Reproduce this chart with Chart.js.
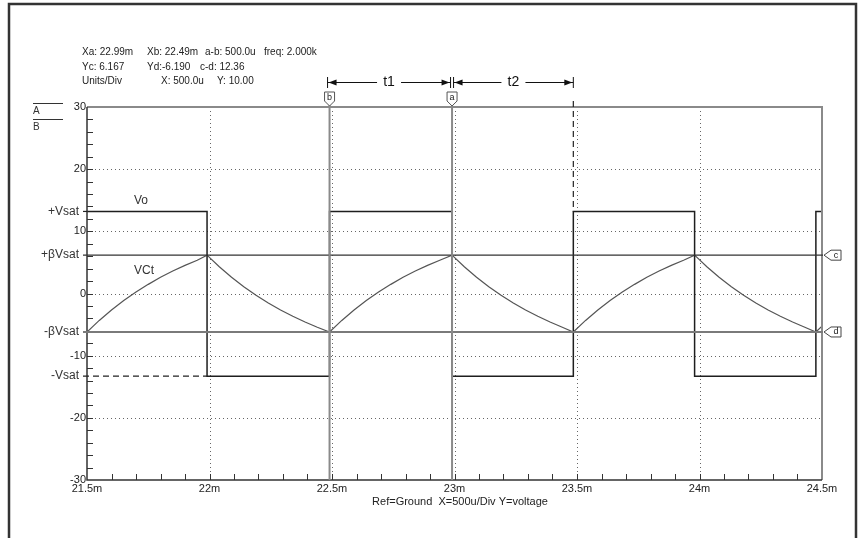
<!DOCTYPE html>
<html>
<head>
<meta charset="utf-8">
<script src="https://cdn.jsdelivr.net/npm/chart.js@4/dist/chart.umd.min.js"></script>
<style>
  html, body { margin: 0; padding: 0; background: #fff; }
  canvas { display: block; }
</style>
</head>
<body>
<canvas id="scope" width="863" height="538"></canvas>
<script>
// axis ticks (time in ms, voltage in V)
var xTicks = [21.5, 22, 22.5, 23, 23.5, 24, 24.5];
var yTicks = [-30, -20, -10, 0, 10, 20, 30];

// output of the comparator (square wave)
var voTime  = [21.5, 21.99, 21.99, 22.49, 22.49, 22.99, 22.99, 23.485, 23.485, 23.98, 23.98, 24.475, 24.475, 24.5];
var voValue = [13.2, 13.2, -13.3, -13.3, 13.2, 13.2, -13.3, -13.3, 13.2, 13.2, -13.3, -13.3, 13.2, 13.2];

// capacitor voltage
var vctTime = [
  21.50, 21.55, 21.60, 21.65, 21.70, 21.75, 21.80, 21.85, 21.90, 21.95, 21.99,
  22.04, 22.09, 22.14, 22.19, 22.24, 22.29, 22.34, 22.39, 22.44, 22.49,
  22.54, 22.59, 22.64, 22.69, 22.74, 22.79, 22.84, 22.89, 22.94, 22.99,
  23.04, 23.09, 23.14, 23.19, 23.24, 23.29, 23.34, 23.39, 23.44, 23.485,
  23.535, 23.585, 23.635, 23.685, 23.735, 23.785, 23.835, 23.885, 23.935, 23.98,
  24.03, 24.08, 24.13, 24.18, 24.23, 24.28, 24.33, 24.38, 24.43, 24.475,
  24.50
];
var vctValue = [
  -6.19, -4.33, -2.66, -1.14, 0.23, 1.47, 2.60, 3.61, 4.53, 5.36, 6.17,
  4.31, 2.62, 1.10, -0.28, -1.52, -2.65, -3.67, -4.59, -5.43, -6.19,
  -4.33, -2.66, -1.14, 0.23, 1.47, 2.60, 3.61, 4.53, 5.36, 6.17,
  4.31, 2.62, 1.10, -0.28, -1.52, -2.65, -3.67, -4.59, -5.43, -6.19,
  -4.33, -2.66, -1.14, 0.23, 1.47, 2.60, 3.61, 4.53, 5.36, 6.17,
  4.31, 2.62, 1.10, -0.28, -1.52, -2.65, -3.67, -4.59, -5.43, -6.19,
  -5.25
];

// cursors
var cursorXNames = ['a', 'b'];
var cursorXValues = [22.99, 22.49];
var cursorYNames = ['c', 'd'];
var cursorYValues = [6.167, -6.19];
var t2End = 23.485;

// level labels on the left
var levelNames = ['+Vsat', '+\u03B2Vsat', '-\u03B2Vsat', '-Vsat'];
var levelValues = [13.2, 6.167, -6.19, -13.3];

var FONT = '"Liberation Sans", Arial, sans-serif';

function pts(xs, ys) {
  return xs.map(function (x, i) { return { x: x, y: ys[i] }; });
}

var scopePlugin = {
  id: 'scope',
  beforeDatasetsDraw: function (chart) {
    var ctx = chart.ctx, a = chart.chartArea;
    var xs = chart.scales.x, ys = chart.scales.y;
    ctx.save();
    // dotted grid
    ctx.strokeStyle = '#666';
    ctx.lineWidth = 1;
    ctx.setLineDash([1, 3]);
    xTicks.slice(1, -1).forEach(function (v) {
      var px = Math.round(xs.getPixelForValue(v)) + 0.5;
      ctx.beginPath(); ctx.moveTo(px, a.top); ctx.lineTo(px, a.bottom); ctx.stroke();
    });
    yTicks.slice(1, -1).forEach(function (v) {
      var py = Math.round(ys.getPixelForValue(v)) + 0.5;
      ctx.beginPath(); ctx.moveTo(a.left, py); ctx.lineTo(a.right, py); ctx.stroke();
    });
    ctx.setLineDash([]);
    // minor ticks
    ctx.strokeStyle = '#333';
    for (var i = 1; i < 30; i++) {
      var px = Math.round(xs.getPixelForValue(21.5 + i * 0.1)) + 0.5;
      ctx.beginPath(); ctx.moveTo(px, a.bottom); ctx.lineTo(px, a.bottom - 6); ctx.stroke();
    }
    for (var j = 1; j < 30; j++) {
      var py = Math.round(ys.getPixelForValue(-30 + j * 2)) + 0.5;
      ctx.beginPath(); ctx.moveTo(a.left, py); ctx.lineTo(a.left + 6, py); ctx.stroke();
    }
    ctx.restore();
  },
  afterDatasetsDraw: function (chart) {
    var ctx = chart.ctx, a = chart.chartArea;
    var xs = chart.scales.x, ys = chart.scales.y;
    ctx.save();

    // outer frame
    ctx.strokeStyle = '#333';
    ctx.lineWidth = 2.5;
    ctx.beginPath();
    ctx.moveTo(9, 540); ctx.lineTo(9, 4); ctx.lineTo(856, 4); ctx.lineTo(856, 540);
    ctx.stroke();

    // plot border
    ctx.lineWidth = 2;
    ctx.strokeStyle = '#8a8a8a';
    ctx.beginPath();
    ctx.moveTo(a.left, a.top); ctx.lineTo(a.right, a.top); ctx.lineTo(a.right, a.bottom);
    ctx.stroke();
    ctx.strokeStyle = '#333';
    ctx.lineWidth = 1.5;
    ctx.beginPath();
    ctx.moveTo(a.left, a.top); ctx.lineTo(a.left, a.bottom); ctx.lineTo(a.right, a.bottom);
    ctx.stroke();

    // horizontal cursors c, d
    cursorYValues.forEach(function (v, i) {
      var py = ys.getPixelForValue(v);
      ctx.strokeStyle = i === 0 ? '#333' : '#7a7a7a';
      ctx.lineWidth = i === 0 ? 1.2 : 2;
      ctx.beginPath(); ctx.moveTo(83, py); ctx.lineTo(a.right + 1, py); ctx.stroke();
      // marker on the right
      ctx.fillStyle = '#fff';
      ctx.strokeStyle = '#444';
      ctx.lineWidth = 1;
      ctx.beginPath();
      ctx.moveTo(a.right + 2, py);
      ctx.lineTo(a.right + 9, py - 5);
      ctx.lineTo(a.right + 19, py - 5);
      ctx.lineTo(a.right + 19, py + 5);
      ctx.lineTo(a.right + 9, py + 5);
      ctx.closePath();
      ctx.fill(); ctx.stroke();
      ctx.fillStyle = '#222';
      ctx.font = '9px ' + FONT;
      ctx.textAlign = 'center';
      ctx.textBaseline = 'middle';
      ctx.fillText(cursorYNames[i], a.right + 14, py);
    });

    // vertical cursors a, b
    cursorXValues.forEach(function (v, i) {
      var px = xs.getPixelForValue(v);
      ctx.strokeStyle = '#8a8a8a';
      ctx.lineWidth = 2;
      ctx.beginPath(); ctx.moveTo(px, a.top - 3); ctx.lineTo(px, a.bottom); ctx.stroke();
      ctx.fillStyle = '#fff';
      ctx.strokeStyle = '#555';
      ctx.lineWidth = 1;
      ctx.beginPath();
      ctx.moveTo(px - 5, a.top - 15);
      ctx.lineTo(px + 5, a.top - 15);
      ctx.lineTo(px + 5, a.top - 6);
      ctx.lineTo(px, a.top - 1);
      ctx.lineTo(px - 5, a.top - 6);
      ctx.closePath();
      ctx.fill(); ctx.stroke();
      ctx.fillStyle = '#222';
      ctx.font = '9px ' + FONT;
      ctx.textAlign = 'center';
      ctx.textBaseline = 'middle';
      ctx.fillText(cursorXNames[i], px, a.top - 9);
    });

    // dashed guides
    ctx.strokeStyle = '#222';
    ctx.lineWidth = 1.2;
    ctx.setLineDash([6, 4]);
    var xe = xs.getPixelForValue(t2End);
    ctx.beginPath(); ctx.moveTo(xe, a.top - 6); ctx.lineTo(xe, ys.getPixelForValue(levelValues[0])); ctx.stroke();
    var yNeg = ys.getPixelForValue(levelValues[3]);
    ctx.beginPath(); ctx.moveTo(83, yNeg); ctx.lineTo(xs.getPixelForValue(voTime[1]), yNeg); ctx.stroke();
    ctx.setLineDash([]);
    ctx.lineWidth = 1.2;
    var yPos = ys.getPixelForValue(levelValues[0]);
    ctx.beginPath(); ctx.moveTo(83, yPos); ctx.lineTo(a.left, yPos); ctx.stroke();

    // level labels
    ctx.fillStyle = '#333';
    ctx.font = '12px ' + FONT;
    ctx.textAlign = 'right';
    ctx.textBaseline = 'middle';
    levelNames.forEach(function (n, i) {
      ctx.fillText(n, 79, ys.getPixelForValue(levelValues[i]));
    });

    // trace labels
    ctx.textAlign = 'left';
    ctx.fillText('Vo', 134, 201);
    ctx.fillText('VCt', 134, 271);

    // legend A / B
    ctx.strokeStyle = '#333';
    ctx.lineWidth = 1;
    ctx.beginPath(); ctx.moveTo(33, 103.5); ctx.lineTo(63, 103.5); ctx.stroke();
    ctx.beginPath(); ctx.moveTo(33, 119.5); ctx.lineTo(63, 119.5); ctx.stroke();
    ctx.font = '10px ' + FONT;
    ctx.textBaseline = 'alphabetic';
    ctx.fillText('A', 33, 114);
    ctx.fillText('B', 33, 130);

    // readout
    ctx.fillStyle = '#222';
    ctx.font = '10px ' + FONT;
    ctx.fillText('Xa: 22.99m', 82, 55);
    ctx.fillText('Xb: 22.49m', 147, 55);
    ctx.fillText('a-b: 500.0u', 205, 55);
    ctx.fillText('freq: 2.000k', 264, 55);
    ctx.fillText('Yc: 6.167', 82, 70);
    ctx.fillText('Yd:-6.190', 147, 70);
    ctx.fillText('c-d: 12.36', 200, 70);
    ctx.fillText('Units/Div', 82, 84);
    ctx.fillText('X: 500.0u', 161, 84);
    ctx.fillText('Y: 10.00', 217, 84);

    // period arrows t1, t2
    var xb = xs.getPixelForValue(cursorXValues[1]);
    var xa = xs.getPixelForValue(cursorXValues[0]);
    function bar(x) {
      ctx.beginPath(); ctx.moveTo(x, 77); ctx.lineTo(x, 88); ctx.stroke();
    }
    function head(x, dir) {
      ctx.beginPath();
      ctx.moveTo(x, 82.5); ctx.lineTo(x + dir * 8, 79.5); ctx.lineTo(x + dir * 8, 85.5);
      ctx.closePath(); ctx.fill();
    }
    function arrow(x1, x2, label) {
      var mid = (x1 + x2) / 2;
      ctx.beginPath();
      ctx.moveTo(x1, 82.5); ctx.lineTo(mid - 12, 82.5);
      ctx.moveTo(mid + 12, 82.5); ctx.lineTo(x2, 82.5);
      ctx.stroke();
      head(x1 + 1, 1); head(x2 - 1, -1);
      ctx.font = '14px ' + FONT;
      ctx.textAlign = 'center';
      ctx.textBaseline = 'middle';
      ctx.fillText(label, mid, 82);
    }
    ctx.strokeStyle = '#111';
    ctx.fillStyle = '#111';
    ctx.lineWidth = 1;
    bar(xb - 2); bar(xa - 1.5); bar(xa + 1.5); bar(xe);
    arrow(xb - 2, xa - 1.5, 't1');
    arrow(xa + 1.5, xe, 't2');

    // footer
    ctx.fillStyle = '#222';
    ctx.font = '11px ' + FONT;
    ctx.textAlign = 'center';
    ctx.textBaseline = 'alphabetic';
    ctx.fillText('Ref=Ground  X=500u/Div Y=voltage', 460, 505);

    ctx.restore();
  }
};

new Chart(document.getElementById('scope'), {
  type: 'line',
  data: {
    datasets: [{
      label: 'Vo',
      data: pts(voTime, voValue),
      borderColor: '#1e1e1e',
      borderWidth: 1.5,
      pointRadius: 0,
      tension: 0
    }, {
      label: 'VCt',
      data: pts(vctTime, vctValue),
      borderColor: '#555',
      borderWidth: 1.2,
      pointRadius: 0,
      tension: 0
    }]
  },
  options: {
    responsive: false,
    animation: false,
    layout: { padding: { top: 107, right: 41, left: 0, bottom: 0 } },
    plugins: {
      legend: { display: false },
      tooltip: { enabled: false }
    },
    scales: {
      x: {
        type: 'linear',
        min: 21.5,
        max: 24.5,
        afterBuildTicks: function (s) { s.ticks = xTicks.map(function (v) { return { value: v }; }); },
        afterFit: function (s) { s.height = 58; },
        grid: { display: false, drawTicks: false },
        border: { display: false },
        ticks: {
          autoSkip: false,
          maxRotation: 0,
          padding: 2,
          color: '#222',
          font: { size: 11, family: FONT },
          callback: function (v) { return v + 'm'; }
        }
      },
      y: {
        min: -30,
        max: 30,
        afterBuildTicks: function (s) { s.ticks = yTicks.map(function (v) { return { value: v }; }); },
        afterFit: function (s) { s.width = 87; },
        grid: { display: false, drawTicks: false },
        border: { display: false },
        ticks: {
          padding: 1,
          color: '#222',
          font: { size: 11, family: FONT },
          callback: function (v) { return String(v); }
        }
      }
    }
  },
  plugins: [scopePlugin]
});
</script>
</body>
</html>
